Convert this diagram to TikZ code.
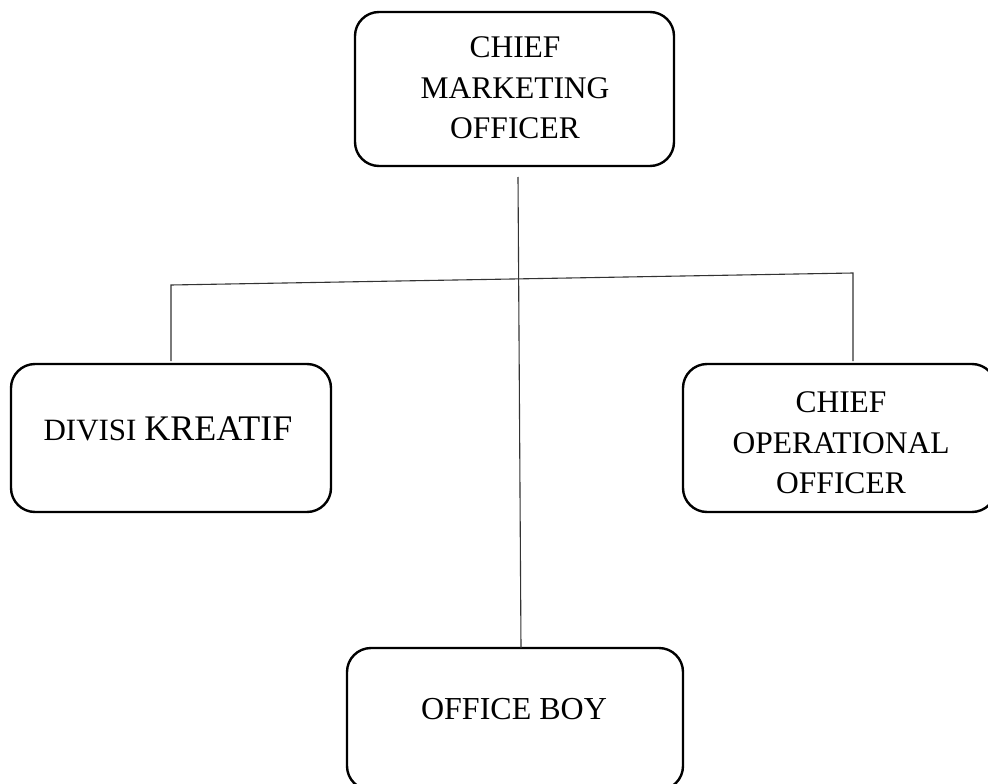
\documentclass[tikz,border=0pt]{standalone}
\usepackage{fontspec}
\setmainfont{Liberation Serif}
\begin{document}
\begin{tikzpicture}[x=1pt,y=-1pt,
  box/.style={draw=black, line width=2.4pt, rounded corners=24pt, inner sep=0pt},
  lbl/.style={align=center, inner sep=0pt, font=\fontsize{31.5}{40.5}\selectfont},
  conn/.style={draw=black!80, line width=1.1pt}]
\useasboundingbox (0,0) rectangle (988,784);
\clip (0,0) rectangle (988,784);
% boxes
\node[box, minimum width=319pt, minimum height=154pt] (cmo) at (514.5,89) {};
\node[box, minimum width=320pt, minimum height=148pt] (dk) at (171,438) {};
\node[box, minimum width=313pt, minimum height=148pt] (coo) at (839.5,438) {};
\node[box, minimum width=336pt, minimum height=142pt] (ob) at (515,719) {};
% labels
\node[lbl] (tcmo) at (515,88) {CHIEF\\MARKETING\\OFFICER};
\node[lbl, anchor=base] (tdk) at (168,440) {{\fontsize{31}{36}\selectfont DIVISI} {\fontsize{36}{42}\selectfont KREATIF}};
\node[lbl] (tcoo) at (841,443) {CHIEF\\OPERATIONAL\\OFFICER};
\node[lbl, font=\fontsize{32}{40}\selectfont] (tob) at (514,709) {OFFICE BOY};
% connectors
\coordinate (c1) at (518,177);
\coordinate (c2) at (521,648);
\coordinate (hl) at (171,285);
\coordinate (hr) at (853,273);
\coordinate (dl) at (171,361);
\coordinate (dr) at (853,361);
\draw[conn] (c1) -- (c2);
\draw[conn] (dl) -- (hl) -- (hr) -- (dr);
\end{tikzpicture}
\end{document}
